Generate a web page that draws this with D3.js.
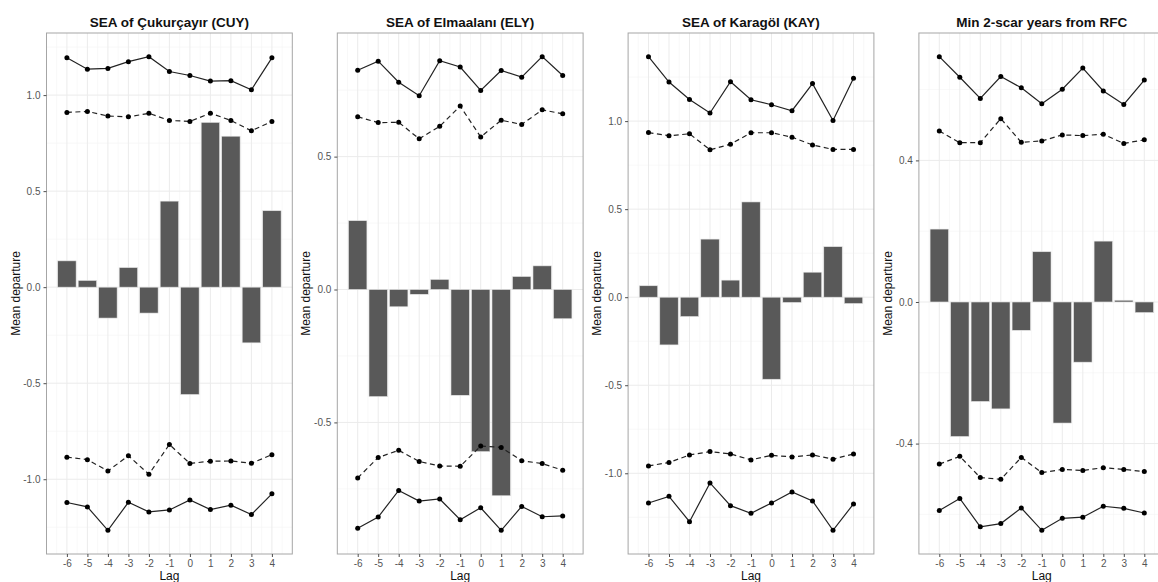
<!DOCTYPE html>
<html>
<head>
<meta charset="utf-8">
<title>SEA panels</title>
<script src="https://d3js.org/d3.v7.min.js"></script>
<style>
    body { margin: 0; background: #fff; font-family: "Liberation Sans", Arial, Helvetica, sans-serif; }
    .grid-major { stroke: #ebebeb; stroke-width: 1; }
    .grid-minor { stroke: #f4f4f4; stroke-width: 0.6; }
    .border { fill: none; stroke: #a6a6a6; stroke-width: 1; }
    .tick line { stroke: #4d4d4d; }
    .tick text { fill: #555; font-size: 10px; }
    .bar { fill: #595959; stroke: #e6e6e6; stroke-width: 0.6; }
    .ci { fill: none; stroke: #222; stroke-width: 1.2; }
    .title { font-weight: bold; font-size: 13.5px; fill: #111; }
    .axtitle { font-size: 12px; fill: #111; }
</style>
</head>
<body>
<svg id="chart"></svg>
<script>
    var W = 1158, H = 582;

    //lags shown on x
    var lags = [-6, -5, -4, -3, -2, -1, 0, 1, 2, 3, 4];

    var titles = ["SEA of Çukurçayır (CUY)", "SEA of Elmaalanı (ELY)", "SEA of Karagöl (KAY)", "Min 2-scar years from RFC"];

    //mean departure (bars)
    var meanDep = [
        [0.137, 0.035, -0.161, 0.102, -0.135, 0.448, -0.559, 0.858, 0.786, -0.290, 0.398],
        [0.259, -0.403, -0.065, -0.018, 0.038, -0.398, -0.610, -0.776, 0.049, 0.089, -0.110],
        [0.065, -0.271, -0.110, 0.330, 0.097, 0.541, -0.466, -0.030, 0.142, 0.287, -0.036],
        [0.206, -0.380, -0.281, -0.302, -0.080, 0.142, -0.342, -0.170, 0.172, 0.005, -0.030]
    ];

    //upper 99% (solid)
    var upper99 = [
        [1.194, 1.135, 1.139, 1.174, 1.200, 1.123, 1.102, 1.073, 1.075, 1.028, 1.194],
        [0.825, 0.859, 0.780, 0.729, 0.861, 0.837, 0.749, 0.824, 0.799, 0.876, 0.805],
        [1.366, 1.222, 1.123, 1.046, 1.224, 1.121, 1.093, 1.059, 1.213, 1.004, 1.243],
        [0.693, 0.635, 0.575, 0.637, 0.605, 0.560, 0.601, 0.661, 0.596, 0.558, 0.627]
    ];

    //upper 95% (dashed)
    var upper95 = [
        [0.910, 0.915, 0.891, 0.887, 0.905, 0.868, 0.863, 0.906, 0.868, 0.814, 0.863],
        [0.650, 0.628, 0.629, 0.567, 0.614, 0.690, 0.574, 0.637, 0.621, 0.676, 0.661],
        [0.935, 0.917, 0.928, 0.837, 0.869, 0.934, 0.934, 0.909, 0.865, 0.839, 0.839],
        [0.483, 0.450, 0.450, 0.518, 0.451, 0.455, 0.472, 0.470, 0.474, 0.448, 0.458]
    ];

    //lower 95% (dashed)
    var lower95 = [
        [-0.885, -0.898, -0.957, -0.878, -0.974, -0.819, -0.918, -0.906, -0.905, -0.917, -0.872],
        [-0.709, -0.632, -0.605, -0.647, -0.664, -0.665, -0.589, -0.594, -0.644, -0.655, -0.680],
        [-0.958, -0.939, -0.896, -0.877, -0.890, -0.924, -0.898, -0.907, -0.896, -0.920, -0.890],
        [-0.458, -0.436, -0.496, -0.501, -0.439, -0.482, -0.473, -0.476, -0.468, -0.473, -0.479]
    ];

    //lower 99% (solid)
    var lower99 = [
        [-1.121, -1.144, -1.266, -1.120, -1.170, -1.160, -1.108, -1.158, -1.135, -1.184, -1.076],
        [-0.898, -0.856, -0.756, -0.796, -0.788, -0.866, -0.821, -0.906, -0.816, -0.855, -0.852],
        [-1.169, -1.131, -1.275, -1.055, -1.184, -1.227, -1.169, -1.106, -1.157, -1.324, -1.174],
        [-0.589, -0.555, -0.635, -0.626, -0.582, -0.645, -0.611, -0.608, -0.577, -0.583, -0.596]
    ];

    //y axis breaks per panel
    var yTicks = [
        [-1.0, -0.5, 0.0, 0.5, 1.0],
        [-0.5, 0.0, 0.5],
        [-1.0, -0.5, 0.0, 0.5, 1.0],
        [-0.4, 0.0, 0.4]
    ];

    var svg = d3.select("#chart").attr("width", W).attr("height", H);

    //panel geometry
    var panelLeft = [46.5, 337.3, 628.1, 918.9],
        panelW = 245.8,
        plotTop = 33, plotBottom = 554;

    //ggplot style labels, plain hyphen for minus
    var fmtY = function (d) { return d.toFixed(1); };
    var fmtX = function (d) { return String(d); };

    for (var p = 0; p < 4; p++) {
        var g = svg.append("g").attr("transform", "translate(" + panelLeft[p] + ",0)");

        //x: continuous, bars +-0.45, expanded 5%
        var xmin = -6.45, xmax = 4.45, xpad = (xmax - xmin) * 0.05;
        var x = d3.scaleLinear().domain([xmin - xpad, xmax + xpad]).range([0, panelW]);

        var all = [0].concat(meanDep[p], upper99[p], upper95[p], lower95[p], lower99[p]);
        var ext = d3.extent(all), ypad = (ext[1] - ext[0]) * 0.05;
        var y = d3.scaleLinear().domain([ext[0] - ypad, ext[1] + ypad]).range([plotBottom, plotTop]);

        //minor grid
        var step = yTicks[p][1] - yTicks[p][0];
        var yMinor = [];
        for (var v = yTicks[p][0] - step * 1.5; v <= ext[1] + ypad; v += step) {
            if (v >= ext[0] - ypad) yMinor.push(v);
        }
        var xMinor = lags.map(function (l) { return l - 0.5; }).concat([4.5]);

        g.append("g").selectAll("line").data(yMinor).enter().append("line")
            .attr("class", "grid-minor")
            .attr("x1", 0).attr("x2", panelW)
            .attr("y1", function (d) { return y(d); }).attr("y2", function (d) { return y(d); });
        g.append("g").selectAll("line").data(xMinor).enter().append("line")
            .attr("class", "grid-minor")
            .attr("y1", plotTop).attr("y2", plotBottom)
            .attr("x1", function (d) { return x(d); }).attr("x2", function (d) { return x(d); });

        //major grid
        g.append("g").selectAll("line").data(yTicks[p]).enter().append("line")
            .attr("class", "grid-major")
            .attr("x1", 0).attr("x2", panelW)
            .attr("y1", function (d) { return y(d); }).attr("y2", function (d) { return y(d); });
        g.append("g").selectAll("line").data(lags).enter().append("line")
            .attr("class", "grid-major")
            .attr("y1", plotTop).attr("y2", plotBottom)
            .attr("x1", function (d) { return x(d); }).attr("x2", function (d) { return x(d); });

        //bars
        var md = meanDep[p];
        g.append("g").selectAll("rect").data(lags).enter().append("rect")
            .attr("class", "bar")
            .attr("x", function (d) { return x(d - 0.45); })
            .attr("width", x(0.45) - x(-0.45))
            .attr("y", function (d, i) { return Math.min(y(md[i]), y(0)); })
            .attr("height", function (d, i) { return Math.abs(y(md[i]) - y(0)); });

        //confidence lines
        var series = [[upper99[p], null], [upper95[p], "5,3.5"], [lower95[p], "5,3.5"], [lower99[p], null]];
        series.forEach(function (s) {
            var vals = s[0];
            var line = d3.line().x(function (d) { return x(d); }).y(function (d, i) { return y(vals[i]); });
            g.append("path").attr("class", "ci").attr("d", line(lags))
                .attr("stroke-dasharray", s[1]);
            g.append("g").selectAll("circle").data(lags).enter().append("circle")
                .attr("cx", function (d) { return x(d); })
                .attr("cy", function (d, i) { return y(vals[i]); })
                .attr("r", 2.5).attr("fill", "#000");
        });

        //border
        g.append("rect").attr("class", "border")
            .attr("x", 0).attr("y", plotTop).attr("width", panelW).attr("height", plotBottom - plotTop);

        //axes
        g.append("g").attr("transform", "translate(0," + plotBottom + ")")
            .call(d3.axisBottom(x).tickValues(lags).tickSize(3).tickPadding(3).tickFormat(fmtX))
            .call(function (a) { a.select(".domain").remove(); });
        g.append("g")
            .call(d3.axisLeft(y).tickValues(yTicks[p]).tickSize(3).tickPadding(3).tickFormat(fmtY))
            .call(function (a) { a.select(".domain").remove(); });

        //titles
        g.append("text").attr("class", "title")
            .attr("x", panelW / 2).attr("y", 27).attr("text-anchor", "middle")
            .text(titles[p]);
        g.append("text").attr("class", "axtitle")
            .attr("x", panelW / 2).attr("y", 580).attr("text-anchor", "middle")
            .text("Lag");
        g.append("text").attr("class", "axtitle")
            .attr("transform", "translate(-27," + ((plotTop + plotBottom) / 2) + ") rotate(-90)")
            .attr("text-anchor", "middle")
            .text("Mean departure");
    }
</script>
</body>
</html>
